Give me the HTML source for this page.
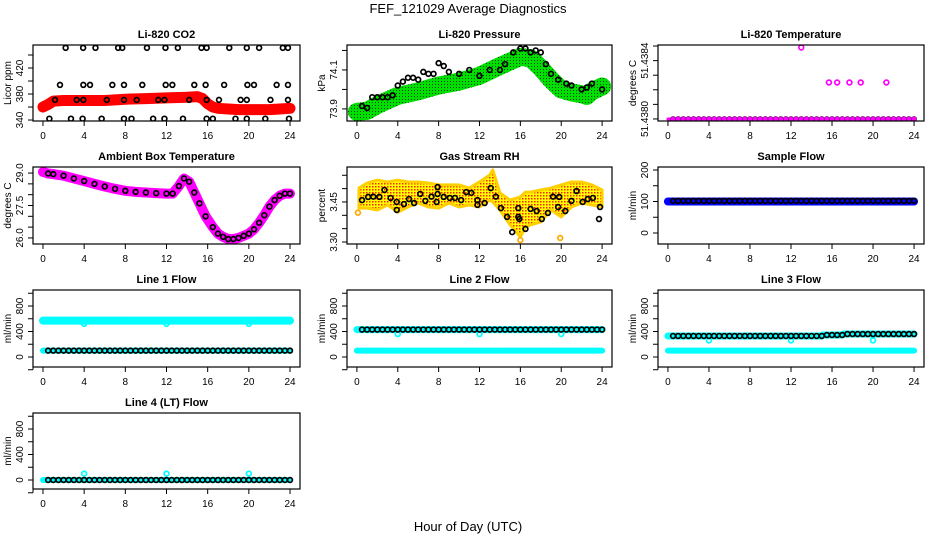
<!DOCTYPE html>
<html><head><meta charset="utf-8"><style>
html,body{margin:0;padding:0;background:#fff;}
svg{display:block;font-family:"Liberation Sans",Arial,sans-serif;}
</style></head><body>
<svg id="chart" width="936" height="540" viewBox="0 0 936 540">
<defs>
<pattern id="stip" width="3" height="3" patternUnits="userSpaceOnUse"><rect width="3" height="3" fill="#00e000"/><rect width="1" height="1" fill="#004000"/></pattern>
<pattern id="rhp" width="3" height="3" patternUnits="userSpaceOnUse"><rect width="3" height="3" fill="#ffff00"/><rect width="1.5" height="1.5" fill="#ff2000"/></pattern>
</defs>
<text x="468" y="13" text-anchor="middle" font-size="13">FEF_121029  Average Diagnostics</text>
<text x="468" y="531" text-anchor="middle" font-size="13">Hour of Day (UTC)</text>
</svg>
<script>
// ---- shared data ----
const halfHours=[0.5,1,1.5,2,2.5,3,3.5,4,4.5,5,5.5,6,6.5,7,7.5,8,8.5,9,9.5,10,10.5,11,11.5,12,12.5,13,13.5,14,14.5,15,15.5,16,16.5,17,17.5,18,18.5,19,19.5,20,20.5,21,21.5,22,22.5,23,23.5,24];
const xTicks=[0,4,8,12,16,20,24];
// CO2
const co2BandX=[0,0.5,1,2,4,6,8,10,12,14,15,15.5,16,16.5,17,18,19,20,21,22,23,24];
const co2BandY=[360,364,369,370,370,370,372,373,374,375,376,373,365,360,358,357,356,356,356,356,357,358];
const co2X=[2.2,3.9,5.1,7.3,7.7,10.1,11.9,13.1,15.4,15.9,18.1,19.8,21,23.3,23.8,
 1.65,3.92,4.57,6.74,7.87,9.65,11.92,12.57,14.7,15.8,17.6,19.86,20.5,22.7,23.8,
 1.16,3.27,3.92,6.2,7.87,9.1,11.2,11.8,14.2,15.9,17.1,19.2,19.8,22.1,23.8,
 0.62,2.72,3.85,5.7,7.87,8.6,10.7,11.8,13.6,15.9,16.5,18.7,19.8,21.6,23.9];
const co2Y=[451,451,451,451,451,451,451,451,451,451,451,451,451,451,451,
 394,394,394,394,394,394,394,394,394,394,394,394,394,394,394,
 371,371,371,371,371,371,371,371,371,371,371,371,371,371,371,
 342,342,342,342,342,342,342,342,342,342,342,342,342,342,342];
// Pressure
const presBandX=[0,1,2,4,6,8,10,12,14,16,17,18,19,20,21,22,22.5,23,24];
const presBandY=[73.885,73.89,73.92,73.967,73.99,74.02,74.04,74.07,74.12,74.167,74.16,74.11,74.05,74.0,73.985,73.975,73.967,73.99,74.015];
const presX=[0.5,1,1.5,2,2.5,3,3.5,4,4.5,5,5.5,6,6.5,7,7.5,8,8.5,9,10,11,12,13,14,14.5,15.3,16,16.5,17,17.5,18,18.5,19,19.7,20.5,21,22,22.5,23,24];
const presY=[73.915,73.905,73.96,73.96,73.96,73.96,73.97,74.02,74.04,74.06,74.06,74.05,74.09,74.08,74.08,74.135,74.12,74.09,74.08,74.1,74.07,74.1,74.1,74.13,74.19,74.21,74.21,74.19,74.2,74.19,74.13,74.08,74.05,74.03,74.02,74.0,74.01,74.03,74.0];
// Li-820 temperature
const tempOutX=[13,15.7,16.5,17.7,18.8,21.3];
const tempOutY=[51.43849,51.43825,51.43825,51.43825,51.43825,51.43825];
const tempBase=51.4380;
// Ambient
const ambX=[0,0.5,1,2,3,4,5,6,7,8,9,10,11,12,12.6,13.2,13.7,14.2,14.7,15.2,15.8,16.5,17,17.5,18,18.5,19,19.5,20,20.5,21,21.5,22,22.5,23,23.5,24];
const ambY=[29.05,28.98,28.95,28.88,28.75,28.63,28.5,28.38,28.27,28.18,28.13,28.1,28.07,28.05,28.05,28.4,28.75,28.6,28.1,27.6,27.0,26.5,26.2,26.05,25.95,25.95,26.0,26.1,26.2,26.4,26.7,27.05,27.45,27.75,27.95,28.05,28.05];
// RH
const rhX=[0.2,1,2,3,4,5,6,7,8,9,10,11,12,13,13.3,14,15,16,16.5,17,18,19,20,21,22,23,24];
const rhUp=[3.502,3.521,3.532,3.525,3.532,3.525,3.525,3.521,3.514,3.514,3.514,3.502,3.525,3.551,3.570,3.484,3.457,3.469,3.487,3.487,3.495,3.502,3.514,3.525,3.525,3.514,3.495];
const rhLo=[3.427,3.427,3.420,3.439,3.412,3.431,3.446,3.431,3.427,3.446,3.431,3.439,3.431,3.457,3.45,3.420,3.364,3.319,3.356,3.364,3.375,3.420,3.394,3.431,3.446,3.439,3.431];
const rhCX=[0.5,1.1,1.6,2.2,2.7,3.3,3.9,3.9,4.6,5.1,5.6,6.2,6.7,7.3,7.9,7.9,7.8,8.5,9.1,9.6,10.2,10.7,11.2,11.8,11.8,12.5,13.1,13.6,14.1,14.7,15.2,15.8,15.8,15.9,16.5,17.0,17.6,18.1,18.7,19.2,19.7,19.8,20.4,21.0,21.5,22.1,22.6,23.1,23.8,23.7];
const rhCY=[3.457,3.469,3.47,3.469,3.495,3.465,3.45,3.42,3.442,3.461,3.446,3.48,3.454,3.47,3.506,3.48,3.45,3.469,3.465,3.465,3.457,3.487,3.484,3.457,3.439,3.446,3.502,3.47,3.427,3.394,3.337,3.427,3.394,3.386,3.349,3.424,3.416,3.386,3.409,3.47,3.431,3.469,3.416,3.454,3.491,3.45,3.461,3.465,3.431,3.386];
const rhOutX=[0.1,19.9,16];
const rhOutY=[3.41,3.315,3.307];
// Sample flow
const sampleBand=100, sampleCirc=102;
// Line flows
const l1Hi=570, l1Lo=100, l1Circ=100, l1Dip=520;
const l2Hi=430, l2Lo=100, l2Circ=430, l2Dip=360;
const l3BandX=[0,15,15.1,17,17.1,24];
const l3BandY=[330,330,345,345,360,360];
const l3Lo=100, l3Dip=260;
const l4Base=0, l4Out=100;
const dipHours=[4,12,20];

// ---- layout ----
const svg=document.getElementById('chart');
const NS='http://www.w3.org/2000/svg';
const cols=[[33,300],[347,612],[658,924]];
const rows=[[45,121],[167,244],[290,367],[413,489]];
const XD=[-0.97,24.97];
function el(tag,attrs,parent){const e=document.createElementNS(NS,tag);for(const k in attrs)e.setAttribute(k,attrs[k]);(parent||svg).appendChild(e);return e;}
function panel(c,r,yd,yticks,ylabels,title,ylab,key){
  const [x0,x1]=cols[c],[y0,y1]=rows[r];
  const g=el('g',{});
  
  
  const sx=v=>x0+(v-XD[0])/(XD[1]-XD[0])*(x1-x0);
  const sy=v=>y1-(v-yd[0])/(yd[1]-yd[0])*(y1-y0);
  const clip=el('clipPath',{id:'clip-'+key},g);el('rect',{x:x0,y:y0,width:x1-x0,height:y1-y0},clip);
  const plot=el('g',{'clip-path':'url(#clip-'+key+')'},g);
  
  
  const box=el('rect',{x:x0,y:y0,width:x1-x0,height:y1-y0,fill:'none',stroke:'#000','stroke-width':1.2},g);
  
  
  const t=el('text',{x:(x0+x1)/2,y:y0-7,'text-anchor':'middle','font-size':11,'font-weight':'bold'},g);t.textContent=title;
  
  
  const xa=el('g',{},g);
  
  
  el('line',{x1:sx(xTicks[0]),x2:sx(xTicks[xTicks.length-1]),y1:y1,y2:y1,stroke:'#000'},xa);
  xTicks.forEach(v=>{el('line',{x1:sx(v),x2:sx(v),y1:y1,y2:y1+5,stroke:'#000'},xa);
    const l=el('text',{x:sx(v),y:y1+18,'text-anchor':'middle','font-size':10},xa);l.textContent=v;});
  const ya=el('g',{},g);
  
  
  el('line',{x1:x0,x2:x0,y1:sy(yticks[0]),y2:sy(yticks[yticks.length-1]),stroke:'#000'},ya);
  yticks.forEach((v,i)=>{el('line',{x1:x0-5,x2:x0,y1:sy(v),y2:sy(v),stroke:'#000'},ya);
    if(ylabels[i]){const l=el('text',{x:x0-10,y:sy(v),'text-anchor':'middle','font-size':10,transform:`rotate(-90 ${x0-10} ${sy(v)})`},ya);l.textContent=ylabels[i];}});
  const yl=el('text',{x:x0-22,y:(y0+y1)/2,'text-anchor':'middle','font-size':10,transform:`rotate(-90 ${x0-22} ${(y0+y1)/2})`},g);yl.textContent=ylab;
  
  
  return {sx,sy,plot};
}
function band(p,xs,ys,color,w,name){const pts=xs.map((x,i)=>p.sx(x)+','+p.sy(ys[i])).join(' ');
  const e=el('polyline',{points:pts,fill:'none',stroke:color,'stroke-width':w,'stroke-linejoin':'round','stroke-linecap':'round'},p.plot);
  
  return e;}
function circles(p,xs,ys,color,name,r){const g=el('g',{},p.plot);
  
  
  xs.forEach((x,i)=>el('circle',{cx:p.sx(x),cy:p.sy(ys[i]),r:r||2.4,fill:'none',stroke:color,'stroke-width':1.7},g));return g;}
const flowTicks=[-200,0,200,400,600,800,1000],flowLabels=['','0','','400','','800',''];
const same=(arr,v)=>arr.map(()=>v);

// CO2
let p=panel(0,0,[338.5,455.4],[340,360,380,400,420,440],['340','','380','','420',''],'Li-820 CO2','Licor ppm','co2');
band(p,co2BandX,co2BandY,'#ff0000',11,'co2-band');
circles(p,co2X,co2Y,'#000','co2-points');
// Pressure
p=panel(1,0,[73.838,74.228],[73.9,74.0,74.1,74.2],['73.9','','74.1',''],'Li-820 Pressure','kPa','pressure');
band(p,presBandX,presBandY,'url(#stip)',18,'pressure-band');
circles(p,presX,presY,'#000','pressure-points');
// Temperature
p=panel(2,0,[51.437986,51.438507],[51.4380,51.4381,51.4382,51.4383,51.4384,51.4385],['51.4380','','','','51.4384',''],'Li-820 Temperature','degrees C','li820-temp');
band(p,[0,24],[tempBase,tempBase],'#ff00ff',3,'li820-temp-band');
circles(p,halfHours,same(halfHours,tempBase),'#000','li820-temp-points',2);
circles(p,halfHours,same(halfHours,tempBase),'#ff00ff','li820-temp-magenta-points',1.6);
circles(p,tempOutX,tempOutY,'#ff00ff','li820-temp-outliers');
// Ambient
p=panel(0,1,[25.72,29.28],[26,26.5,27,27.5,28,28.5,29],['26.0','','','27.5','','','29.0'],'Ambient Box Temperature','degrees C','ambient');
band(p,ambX,ambY,'#ff00ff',10,'ambient-band');
circles(p,ambX.slice(1),ambY.slice(1),'#000','ambient-points');
// RH
p=panel(1,1,[3.2925,3.581],[3.30,3.35,3.40,3.45,3.50,3.55],['3.30','','','3.45','',''],'Gas Stream RH','percent','rh');
const rhPts=rhX.map((x,i)=>p.sx(x)+','+p.sy(rhUp[i])).concat(rhX.slice().reverse().map((x,i)=>p.sx(x)+','+p.sy(rhLo[rhX.length-1-i]))).join(' ');
const rhPoly=el('polygon',{points:rhPts,fill:'url(#rhp)',stroke:'#ffd000','stroke-width':3,'stroke-linejoin':'round'},p.plot);


circles(p,rhOutX,rhOutY,'#ffaa00','rh-outliers');
circles(p,rhCX,rhCY,'#000','rh-points');
// Sample flow
p=panel(2,1,[-34.9,209.5],[0,50,100,150,200],['0','','100','','200'],'Sample Flow','ml/min','sample-flow');
band(p,[0,24],[sampleBand,sampleBand],'#0000ff',8,'sample-flow-band');
circles(p,halfHours,same(halfHours,sampleCirc),'#000','sample-flow-points');
// Line 1
p=panel(0,2,[-157,1051],flowTicks,flowLabels,'Line 1 Flow','ml/min','line1');
band(p,[0,24],[l1Hi,l1Hi],'#00ffff',8,'line1-high-band');
band(p,[0,24],[l1Lo,l1Lo],'#00ffff',6,'line1-low-band');
circles(p,dipHours,same(dipHours,l1Dip),'#00ffff','line1-dips');
circles(p,halfHours,same(halfHours,l1Circ),'#000','line1-points');
// Line 2
p=panel(1,2,[-157,1051],flowTicks,flowLabels,'Line 2 Flow','ml/min','line2');
band(p,[0,24],[l2Lo,l2Lo],'#00ffff',6,'line2-low-band');
band(p,[0,24],[l2Circ,l2Circ],'#00ffff',7,'line2-high-band');
circles(p,dipHours,same(dipHours,l2Dip),'#00ffff','line2-dips');
circles(p,halfHours,same(halfHours,l2Circ),'#000','line2-points');
// Line 3
p=panel(2,2,[-157,1051],flowTicks,flowLabels,'Line 3 Flow','ml/min','line3');
band(p,[0,24],[l3Lo,l3Lo],'#00ffff',6,'line3-low-band');
band(p,l3BandX,l3BandY,'#00ffff',7,'line3-high-band');
circles(p,dipHours,same(dipHours,l3Dip),'#00ffff','line3-dips');
circles(p,halfHours,halfHours.map(h=>l3BandY[l3BandX.findIndex((x,i)=>i===l3BandX.length-1||l3BandX[i+1]>h)]),'#000','line3-points');
// Line 4
p=panel(0,3,[-141,1051],flowTicks,flowLabels,'Line 4 (LT) Flow','ml/min','line4');
band(p,[0,24],[l4Base,l4Base],'#00ffff',6,'line4-band');
circles(p,dipHours,same(dipHours,l4Out),'#00ffff','line4-outliers');
circles(p,halfHours,same(halfHours,l4Base),'#000','line4-points');
</script>
</body></html>
